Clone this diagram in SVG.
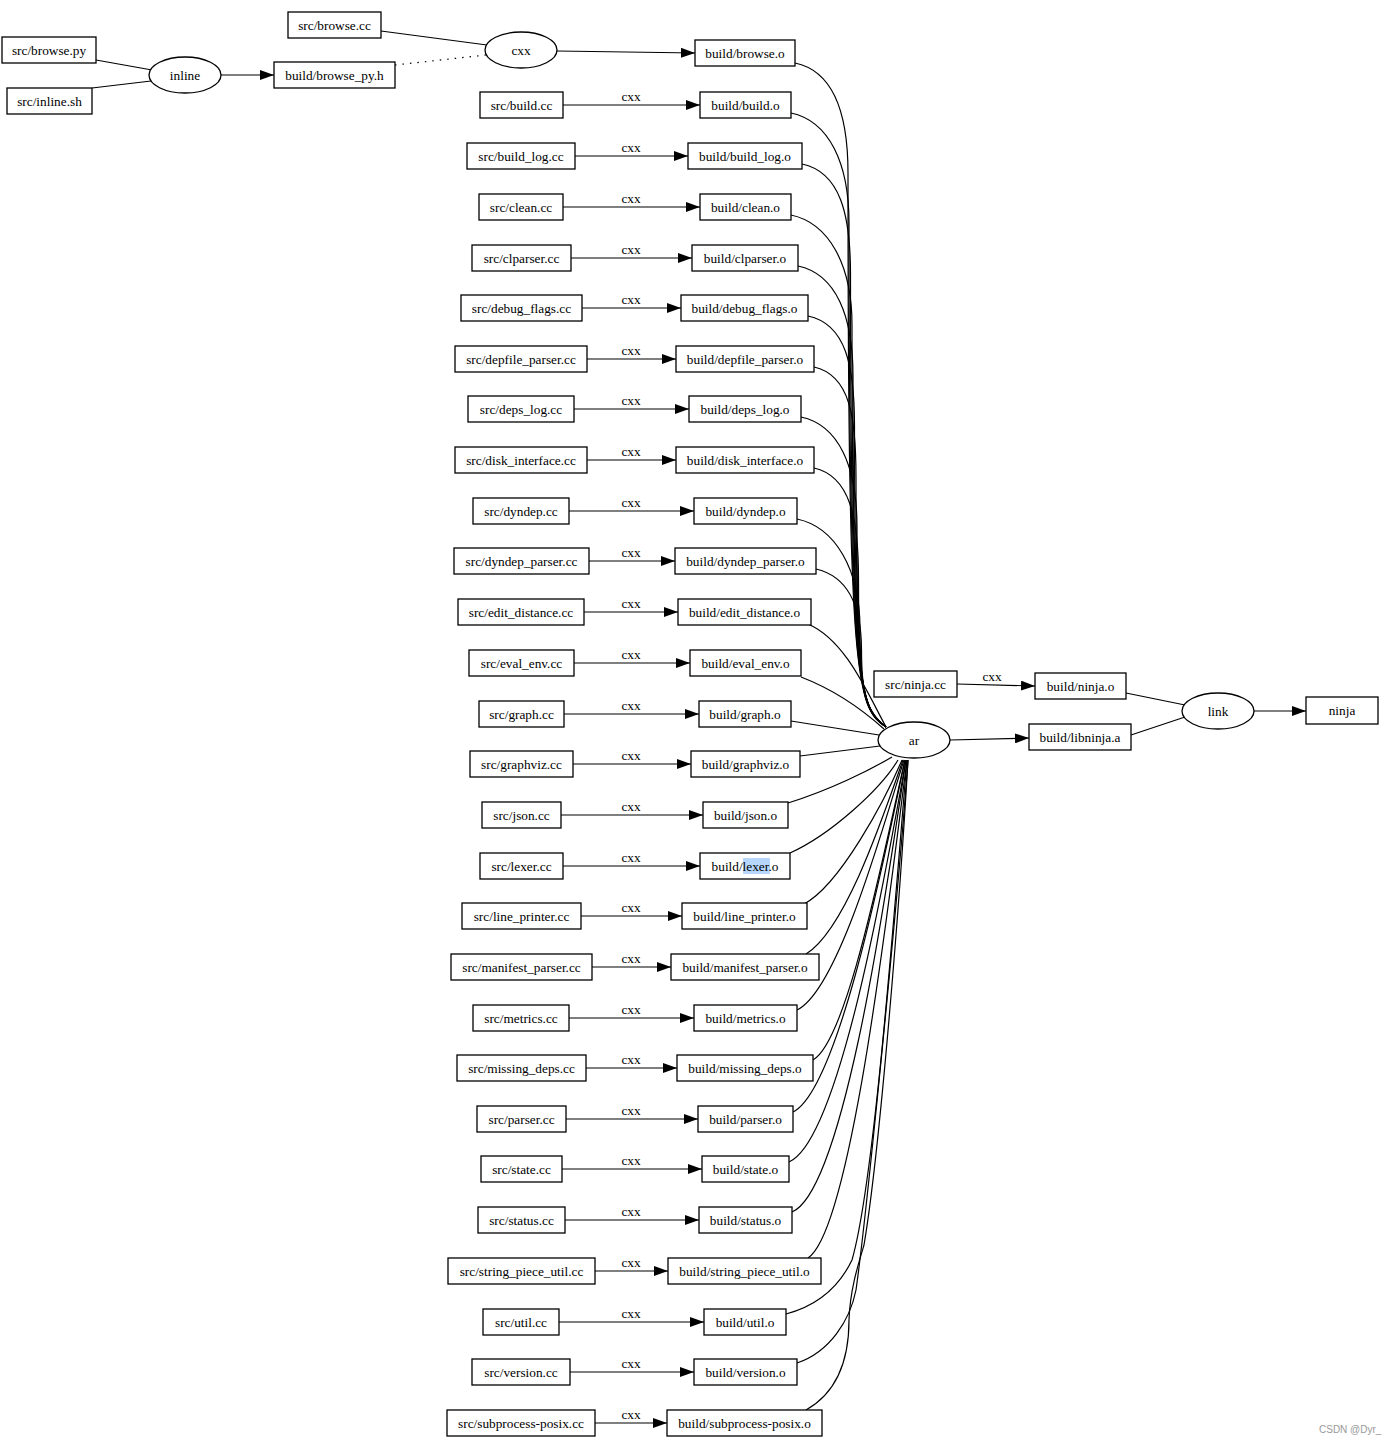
<svg xmlns="http://www.w3.org/2000/svg" width="1390" height="1444" viewBox="0 0 1390 1444">
<style>
rect.b{fill:#fff;stroke:#000;stroke-width:1.3}
ellipse{fill:#fff;stroke:#000;stroke-width:1.3}
text{font-family:"Liberation Serif","Times New Roman",serif;font-size:13.3px;text-anchor:middle;fill:#000}
.e path,.e line{fill:none;stroke:#000;stroke-width:1.2}
.a{marker-end:url(#ah)}
.wm{font-family:"Liberation Sans",Arial,sans-serif;font-size:10px;fill:#999;text-anchor:start}
</style>
<defs>
<marker id="ah" markerUnits="userSpaceOnUse" markerWidth="14" markerHeight="10" refX="14" refY="5" orient="auto">
<path d="M0,0 L14,5 L0,10 z" fill="#000"/>
</marker>
</defs>
<rect width="1390" height="1444" fill="#fff"/>

<g class="e" id="edges">
<line x1="96" y1="60" x2="152" y2="70"/>
<line x1="92" y1="88" x2="151" y2="81"/>
<line class="a" x1="221" y1="75" x2="274" y2="75"/>
<line x1="381" y1="31" x2="487" y2="45"/>
<line x1="395" y1="65" x2="486" y2="55" stroke-dasharray="1.5,6"/>
<line class="a" x1="557" y1="51" x2="695" y2="53"/>
<line class="a" x1="957" y1="684" x2="1035" y2="686"/>
<line class="a" x1="950" y1="740" x2="1029" y2="738"/>
<line x1="1126" y1="693" x2="1185" y2="705"/>
<line x1="1131" y1="735" x2="1185" y2="717"/>
<line class="a" x1="1254" y1="711" x2="1306" y2="711"/>

<line class="a" x1="563" y1="105" x2="700" y2="105"/>
<line class="a" x1="575" y1="156" x2="688" y2="156"/>
<line class="a" x1="563" y1="207" x2="700" y2="207"/>
<line class="a" x1="571" y1="258" x2="692" y2="258"/>
<line class="a" x1="582" y1="308" x2="681" y2="308"/>
<line class="a" x1="587" y1="359" x2="676" y2="359"/>
<line class="a" x1="574" y1="409" x2="689" y2="409"/>
<line class="a" x1="587" y1="460" x2="676" y2="460"/>
<line class="a" x1="569" y1="511" x2="694" y2="511"/>
<line class="a" x1="589" y1="561" x2="675" y2="561"/>
<line class="a" x1="584" y1="612" x2="678" y2="612"/>
<line class="a" x1="574" y1="663" x2="690" y2="663"/>
<line class="a" x1="564" y1="714" x2="699" y2="714"/>
<line class="a" x1="573" y1="764" x2="691" y2="764"/>
<line class="a" x1="561" y1="815" x2="703" y2="815"/>
<line class="a" x1="563" y1="866" x2="700" y2="866"/>
<line class="a" x1="581" y1="916" x2="682" y2="916"/>
<line class="a" x1="592" y1="967" x2="671" y2="967"/>
<line class="a" x1="569" y1="1018" x2="694" y2="1018"/>
<line class="a" x1="586" y1="1068" x2="677" y2="1068"/>
<line class="a" x1="566" y1="1119" x2="698" y2="1119"/>
<line class="a" x1="562" y1="1169" x2="702" y2="1169"/>
<line class="a" x1="565" y1="1220" x2="699" y2="1220"/>
<line class="a" x1="595" y1="1271" x2="668" y2="1271"/>
<line class="a" x1="559" y1="1322" x2="704" y2="1322"/>
<line class="a" x1="570" y1="1372" x2="694" y2="1372"/>
<line class="a" x1="595" y1="1423" x2="667" y2="1423"/>

<path d="M795,63 C833,71 848,113 848,173 C848,680 856,708 886,727"/>
<path d="M791,113 C829,121 849,163 849,223 C849,680 857,708 886,727"/>
<path d="M802,164 C840,172 850.5,214 850.5,274 C850.5,682 858,708 886,727"/>
<path d="M791,215 C829,223 852,265 852,325 C852,684 859,708 886,727"/>
<path d="M798,266 C836,274 853,316 853,376 C853,686 860,708 886,727"/>
<path d="M808,316 C846,324 854.5,366 854.5,426 C854.5,688 861,709 886,727"/>
<path d="M814,367 C850,375 856,417 856,477 C856,690 862,710 886,727"/>
<path d="M801,417 C839,425 857,467 857,527 C857,692 863,710 886,727"/>
<path d="M814,468 C850,476 858.5,518 858.5,578 C858.5,694 864,711 886,727"/>
<path d="M797,519 C835,527 860,569 860,629 C860,696 866,712 886,727"/>
<path d="M816,569 C850,577 861.5,610 861.5,650 C861.5,698 868,713 886,727"/>
<path d="M808,624 C845,640 866,690 886,727"/>
<path d="M801,677 C835,690 865,712 884,729"/>
<path d="M791,721 L879,735"/>
<path d="M800,756 L880,746"/>
<path d="M788,803 C830,790 870,770 892,757"/>
<path d="M790,853 C830,835 880,790 898,760"/>
<path d="M804,904 C840,885 885,800 902,760"/>
<path d="M806,954 C845,930 882,820 903,760"/>
<path d="M797,1010 C838,990 882,830 904,760"/>
<path d="M813,1060 C848,1040 884,850 905,760"/>
<path d="M793,1112 C838,1090 884,860 905,760"/>
<path d="M789,1162 C840,1140 886,870 906,760"/>
<path d="M792,1212 C845,1190 888,880 906,760"/>
<path d="M808,1258 C852,1230 890,890 907,760"/>
<path d="M786,1314 C820,1305 840,1285 852,1260 C875,1180 895,900 907,760"/>
<path d="M797,1363 C830,1352 850,1320 856,1290 C866,1220 898,900 908,760"/>
<path d="M806,1410 C838,1392 849,1360 849,1320 C850,1290 858,1265 864,1245 C880,1150 900,900 908,760"/>
</g>

<g id="labels">
<text x="631" y="101">cxx</text>
<text x="631" y="152">cxx</text>
<text x="631" y="203">cxx</text>
<text x="631" y="254">cxx</text>
<text x="631" y="304">cxx</text>
<text x="631" y="355">cxx</text>
<text x="631" y="405">cxx</text>
<text x="631" y="456">cxx</text>
<text x="631" y="507">cxx</text>
<text x="631" y="557">cxx</text>
<text x="631" y="608">cxx</text>
<text x="631" y="659">cxx</text>
<text x="631" y="710">cxx</text>
<text x="631" y="760">cxx</text>
<text x="631" y="811">cxx</text>
<text x="631" y="862">cxx</text>
<text x="631" y="912">cxx</text>
<text x="631" y="963">cxx</text>
<text x="631" y="1014">cxx</text>
<text x="631" y="1064">cxx</text>
<text x="631" y="1115">cxx</text>
<text x="631" y="1165">cxx</text>
<text x="631" y="1216">cxx</text>
<text x="631" y="1267">cxx</text>
<text x="631" y="1318">cxx</text>
<text x="631" y="1368">cxx</text>
<text x="631" y="1419">cxx</text>
<text x="992" y="681">cxx</text>
</g>

<g id="src_browse_py"><rect class="b" x="2" y="37" width="94" height="26"/><text x="49" y="54.5">src/browse.py</text></g>
<g id="src_inline_sh"><rect class="b" x="7" y="88" width="85" height="26"/><text x="49.5" y="105.5">src/inline.sh</text></g>
<g id="inline"><ellipse cx="185" cy="75" rx="36" ry="18"/><text x="185" y="79.5">inline</text></g>
<g id="build_browse_py_h"><rect class="b" x="274" y="62" width="121" height="26"/><text x="334.5" y="79.5">build/browse_py.h</text></g>
<g id="src_browse_cc"><rect class="b" x="288" y="12" width="93" height="26"/><text x="334.5" y="29.5">src/browse.cc</text></g>
<g id="cxx_browse"><ellipse cx="521" cy="50" rx="36" ry="18"/><text x="521" y="54.5">cxx</text></g>
<g id="build_browse_o"><rect class="b" x="695" y="40" width="100" height="26"/><text x="745" y="57.5">build/browse.o</text></g>

<g id="ar"><ellipse cx="914" cy="740" rx="36" ry="18"/><text x="914" y="744.5">ar</text></g>
<g id="src_ninja_cc"><rect class="b" x="874" y="671" width="83" height="26"/><text x="915.5" y="688.5">src/ninja.cc</text></g>
<g id="build_ninja_o"><rect class="b" x="1035" y="673" width="91" height="26"/><text x="1080.5" y="690.5">build/ninja.o</text></g>
<g id="link"><ellipse cx="1218" cy="711" rx="36" ry="18"/><text x="1218" y="715.5">link</text></g>
<g id="ninja"><rect class="b" x="1306" y="697" width="72" height="27"/><text x="1342" y="715">ninja</text></g>
<g id="build_libninja_a"><rect class="b" x="1029" y="724" width="102" height="26"/><text x="1080" y="741.5">build/libninja.a</text></g>

<g id="src_build_cc"><rect class="b" x="480" y="92" width="83" height="26"/><text x="521.5" y="109.5">src/build.cc</text></g>
<g id="build_build_o"><rect class="b" x="700" y="92" width="91" height="26"/><text x="745.5" y="109.5">build/build.o</text></g>
<g id="src_build_log_cc"><rect class="b" x="467" y="143" width="108" height="26"/><text x="521" y="160.5">src/build_log.cc</text></g>
<g id="build_build_log_o"><rect class="b" x="688" y="143" width="114" height="26"/><text x="745" y="160.5">build/build_log.o</text></g>
<g id="src_clean_cc"><rect class="b" x="479" y="194" width="84" height="26"/><text x="521" y="211.5">src/clean.cc</text></g>
<g id="build_clean_o"><rect class="b" x="700" y="194" width="91" height="26"/><text x="745.5" y="211.5">build/clean.o</text></g>
<g id="src_clparser_cc"><rect class="b" x="472" y="245" width="99" height="26"/><text x="521.5" y="262.5">src/clparser.cc</text></g>
<g id="build_clparser_o"><rect class="b" x="692" y="245" width="106" height="26"/><text x="745" y="262.5">build/clparser.o</text></g>
<g id="src_debug_flags_cc"><rect class="b" x="461" y="295" width="121" height="26"/><text x="521.5" y="312.5">src/debug_flags.cc</text></g>
<g id="build_debug_flags_o"><rect class="b" x="681" y="295" width="127" height="26"/><text x="744.5" y="312.5">build/debug_flags.o</text></g>
<g id="src_depfile_parser_cc"><rect class="b" x="455" y="346" width="132" height="26"/><text x="521" y="363.5">src/depfile_parser.cc</text></g>
<g id="build_depfile_parser_o"><rect class="b" x="676" y="346" width="138" height="26"/><text x="745" y="363.5">build/depfile_parser.o</text></g>
<g id="src_deps_log_cc"><rect class="b" x="468" y="396" width="106" height="26"/><text x="521" y="413.5">src/deps_log.cc</text></g>
<g id="build_deps_log_o"><rect class="b" x="689" y="396" width="112" height="26"/><text x="745" y="413.5">build/deps_log.o</text></g>
<g id="src_disk_interface_cc"><rect class="b" x="455" y="447" width="132" height="26"/><text x="521" y="464.5">src/disk_interface.cc</text></g>
<g id="build_disk_interface_o"><rect class="b" x="676" y="447" width="138" height="26"/><text x="745" y="464.5">build/disk_interface.o</text></g>
<g id="src_dyndep_cc"><rect class="b" x="473" y="498" width="96" height="26"/><text x="521" y="515.5">src/dyndep.cc</text></g>
<g id="build_dyndep_o"><rect class="b" x="694" y="498" width="103" height="26"/><text x="745.5" y="515.5">build/dyndep.o</text></g>
<g id="src_dyndep_parser_cc"><rect class="b" x="454" y="548" width="135" height="26"/><text x="521.5" y="565.5">src/dyndep_parser.cc</text></g>
<g id="build_dyndep_parser_o"><rect class="b" x="675" y="548" width="141" height="26"/><text x="745.5" y="565.5">build/dyndep_parser.o</text></g>
<g id="src_edit_distance_cc"><rect class="b" x="458" y="599" width="126" height="26"/><text x="521" y="616.5">src/edit_distance.cc</text></g>
<g id="build_edit_distance_o"><rect class="b" x="678" y="599" width="133" height="26"/><text x="744.5" y="616.5">build/edit_distance.o</text></g>
<g id="src_eval_env_cc"><rect class="b" x="469" y="650" width="105" height="26"/><text x="521.5" y="667.5">src/eval_env.cc</text></g>
<g id="build_eval_env_o"><rect class="b" x="690" y="650" width="111" height="26"/><text x="745.5" y="667.5">build/eval_env.o</text></g>
<g id="src_graph_cc"><rect class="b" x="479" y="701" width="85" height="26"/><text x="521.5" y="718.5">src/graph.cc</text></g>
<g id="build_graph_o"><rect class="b" x="699" y="701" width="92" height="26"/><text x="745" y="718.5">build/graph.o</text></g>
<g id="src_graphviz_cc"><rect class="b" x="470" y="751" width="103" height="26"/><text x="521.5" y="768.5">src/graphviz.cc</text></g>
<g id="build_graphviz_o"><rect class="b" x="691" y="751" width="109" height="26"/><text x="745.5" y="768.5">build/graphviz.o</text></g>
<g id="src_json_cc"><rect class="b" x="482" y="802" width="79" height="26"/><text x="521.5" y="819.5">src/json.cc</text></g>
<g id="build_json_o"><rect class="b" x="703" y="802" width="85" height="26"/><text x="745.5" y="819.5">build/json.o</text></g>
<g id="src_lexer_cc"><rect class="b" x="480" y="853" width="83" height="26"/><text x="521.5" y="870.5">src/lexer.cc</text></g>
<g id="build_lexer_o"><rect class="b" x="700" y="853" width="90" height="26"/><rect x="743" y="858" width="27" height="16" fill="#b6d6fc"/><text x="745" y="870.5">build/lexer.o</text></g>
<g id="src_line_printer_cc"><rect class="b" x="462" y="903" width="119" height="26"/><text x="521.5" y="920.5">src/line_printer.cc</text></g>
<g id="build_line_printer_o"><rect class="b" x="682" y="903" width="125" height="26"/><text x="744.5" y="920.5">build/line_printer.o</text></g>
<g id="src_manifest_parser_cc"><rect class="b" x="451" y="954" width="141" height="26"/><text x="521.5" y="971.5">src/manifest_parser.cc</text></g>
<g id="build_manifest_parser_o"><rect class="b" x="671" y="954" width="148" height="26"/><text x="745" y="971.5">build/manifest_parser.o</text></g>
<g id="src_metrics_cc"><rect class="b" x="473" y="1005" width="96" height="26"/><text x="521" y="1022.5">src/metrics.cc</text></g>
<g id="build_metrics_o"><rect class="b" x="694" y="1005" width="103" height="26"/><text x="745.5" y="1022.5">build/metrics.o</text></g>
<g id="src_missing_deps_cc"><rect class="b" x="457" y="1055" width="129" height="26"/><text x="521.5" y="1072.5">src/missing_deps.cc</text></g>
<g id="build_missing_deps_o"><rect class="b" x="677" y="1055" width="136" height="26"/><text x="745" y="1072.5">build/missing_deps.o</text></g>
<g id="src_parser_cc"><rect class="b" x="477" y="1106" width="89" height="26"/><text x="521.5" y="1123.5">src/parser.cc</text></g>
<g id="build_parser_o"><rect class="b" x="698" y="1106" width="95" height="26"/><text x="745.5" y="1123.5">build/parser.o</text></g>
<g id="src_state_cc"><rect class="b" x="481" y="1156" width="81" height="26"/><text x="521.5" y="1173.5">src/state.cc</text></g>
<g id="build_state_o"><rect class="b" x="702" y="1156" width="87" height="26"/><text x="745.5" y="1173.5">build/state.o</text></g>
<g id="src_status_cc"><rect class="b" x="478" y="1207" width="87" height="26"/><text x="521.5" y="1224.5">src/status.cc</text></g>
<g id="build_status_o"><rect class="b" x="699" y="1207" width="93" height="26"/><text x="745.5" y="1224.5">build/status.o</text></g>
<g id="src_string_piece_util_cc"><rect class="b" x="448" y="1258" width="147" height="26"/><text x="521.5" y="1275.5">src/string_piece_util.cc</text></g>
<g id="build_string_piece_util_o"><rect class="b" x="668" y="1258" width="153" height="26"/><text x="744.5" y="1275.5">build/string_piece_util.o</text></g>
<g id="src_util_cc"><rect class="b" x="483" y="1309" width="76" height="26"/><text x="521" y="1326.5">src/util.cc</text></g>
<g id="build_util_o"><rect class="b" x="704" y="1309" width="82" height="26"/><text x="745" y="1326.5">build/util.o</text></g>
<g id="src_version_cc"><rect class="b" x="472" y="1359" width="98" height="26"/><text x="521" y="1376.5">src/version.cc</text></g>
<g id="build_version_o"><rect class="b" x="694" y="1359" width="103" height="26"/><text x="745.5" y="1376.5">build/version.o</text></g>
<g id="src_subprocess_posix_cc"><rect class="b" x="447" y="1410" width="148" height="26"/><text x="521" y="1427.5">src/subprocess-posix.cc</text></g>
<g id="build_subprocess_posix_o"><rect class="b" x="667" y="1410" width="155" height="26"/><text x="744.5" y="1427.5">build/subprocess-posix.o</text></g>

<text class="wm" x="1319" y="1433">CSDN @Dyr_</text>
</svg>
